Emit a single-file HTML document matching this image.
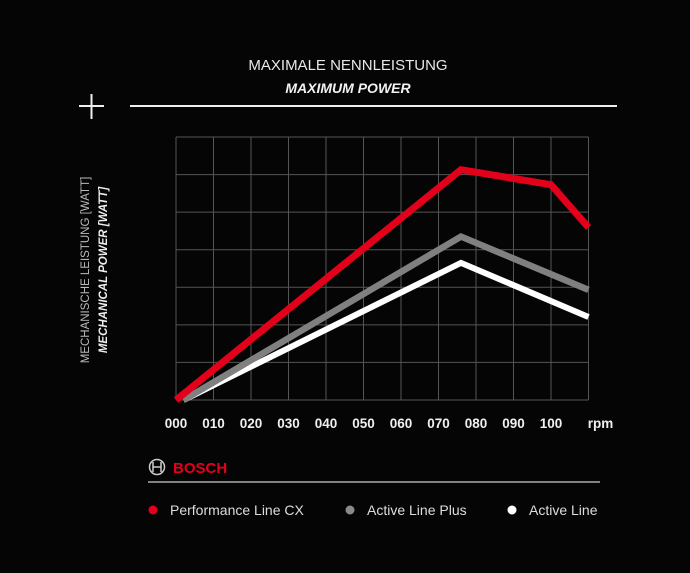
<!DOCTYPE html>
<html><head><meta charset="utf-8"><style>
html,body{margin:0;padding:0;background:#050505;}
body{width:690px;height:573px;overflow:hidden;position:relative;font-family:"Liberation Sans",sans-serif;color:#eee;}
</style></head><body>
<svg id="chart" width="690" height="573" viewBox="0 0 690 573" xmlns="http://www.w3.org/2000/svg" style="position:absolute;left:0;top:0">
<text x="348" y="70" text-anchor="middle" fill="#e8e8e8" font-size="15">MAXIMALE NENNLEISTUNG</text>
<text x="348" y="93" text-anchor="middle" fill="#f2f2f2" font-size="14" font-weight="bold" font-style="italic">MAXIMUM POWER</text>
<g stroke="#eee" stroke-width="2"><line x1="79" y1="106" x2="104" y2="106"/><line x1="91.5" y1="94" x2="91.5" y2="119"/></g>
<line x1="130" y1="106" x2="617" y2="106" stroke="#eee" stroke-width="2"/>
<text transform="translate(89,270) rotate(-90)" text-anchor="middle" fill="#bbb" font-size="11.5">MECHANISCHE LEISTUNG [WATT]</text>
<text transform="translate(107,270) rotate(-90)" text-anchor="middle" fill="#eee" font-size="11.5" font-weight="bold" font-style="italic">MECHANICAL POWER [WATT]</text>
<g id="grid"></g><g id="series"></g><g id="ticks"></g>
<g>
<circle cx="157" cy="467" r="7.5" fill="none" stroke="#ccc" stroke-width="1.5"/>
<path d="M153 462 V472 M161 462 V472 M153 467 H161" stroke="#ccc" stroke-width="1.5" fill="none"/>
<text x="173" y="473" fill="#e2001a" font-size="15" font-weight="bold">BOSCH</text>
</g>
<line x1="148" y1="482" x2="600" y2="482" stroke="#ccc" stroke-width="1.2"/>
<g><circle cx="153" cy="510" r="4.5" fill="#e2001a"/><text x="170" y="515" fill="#ddd" font-size="14">Performance Line CX</text></g>
<g><circle cx="350" cy="510" r="4.5" fill="#8a8a8a"/><text x="367" y="515" fill="#ddd" font-size="14">Active Line Plus</text></g>
<g><circle cx="512" cy="510" r="4.5" fill="#fff"/><text x="529" y="515" fill="#ddd" font-size="14">Active Line</text></g>
</svg>
<script>
const tickLabels=["000","010","020","030","040","050","060","070","080","090","100","rpm"];
const cxRpm=[0,76,100,110];
const cxWatt=[0,613,573,459];
const plusRpm=[2,76,110];
const plusWatt=[0,435,293];
const activeRpm=[2,76,110];
const activeWatt=[0,365,221];
const X0=176,X1=588.5,Y0=400,Y1=137;
const xMax=110,yMax=700;
const xs=v=>X0+v/xMax*(X1-X0);
const ys=v=>Y0-v/yMax*(Y0-Y1);
const NS="http://www.w3.org/2000/svg";
const grid=document.getElementById('grid');
for(let i=0;i<=11;i++){const l=document.createElementNS(NS,'line');


const x=xs(i*10);l.setAttribute('x1',x);l.setAttribute('x2',x);l.setAttribute('y1',Y1);l.setAttribute('y2',Y0);l.setAttribute('stroke','#555');l.setAttribute('stroke-width','1');grid.appendChild(l);}
for(let j=0;j<=7;j++){const l=document.createElementNS(NS,'line');


const y=ys(j*100);l.setAttribute('y1',y);l.setAttribute('y2',y);l.setAttribute('x1',X0);l.setAttribute('x2',X1);l.setAttribute('stroke','#555');l.setAttribute('stroke-width','1');grid.appendChild(l);}
const ticks=document.getElementById('ticks');
tickLabels.forEach((t,i)=>{const e=document.createElementNS(NS,'text');


e.setAttribute('x',xs(i*10)+(i==11?12:0));e.setAttribute('y',428);e.setAttribute('text-anchor','middle');e.setAttribute('fill','#f0f0f0');e.setAttribute('font-size','13.5');e.setAttribute('font-weight','bold');e.textContent=t;ticks.appendChild(e);});
const ser=document.getElementById('series');
function line(r,w,color,width,name){const p=document.createElementNS(NS,'polyline');


p.setAttribute('points',r.map((v,i)=>xs(v)+','+ys(w[i])).join(' '));p.setAttribute('fill','none');p.setAttribute('stroke',color);p.setAttribute('stroke-width',width);p.setAttribute('stroke-linejoin','miter');ser.appendChild(p);}
line(activeRpm,activeWatt,'#ffffff',6,'series-active-line');
line(plusRpm,plusWatt,'#808080',6.5,'series-active-line-plus');
line(cxRpm,cxWatt,'#e2001a',7,'series-performance-line-cx');
</script>
</body></html>
